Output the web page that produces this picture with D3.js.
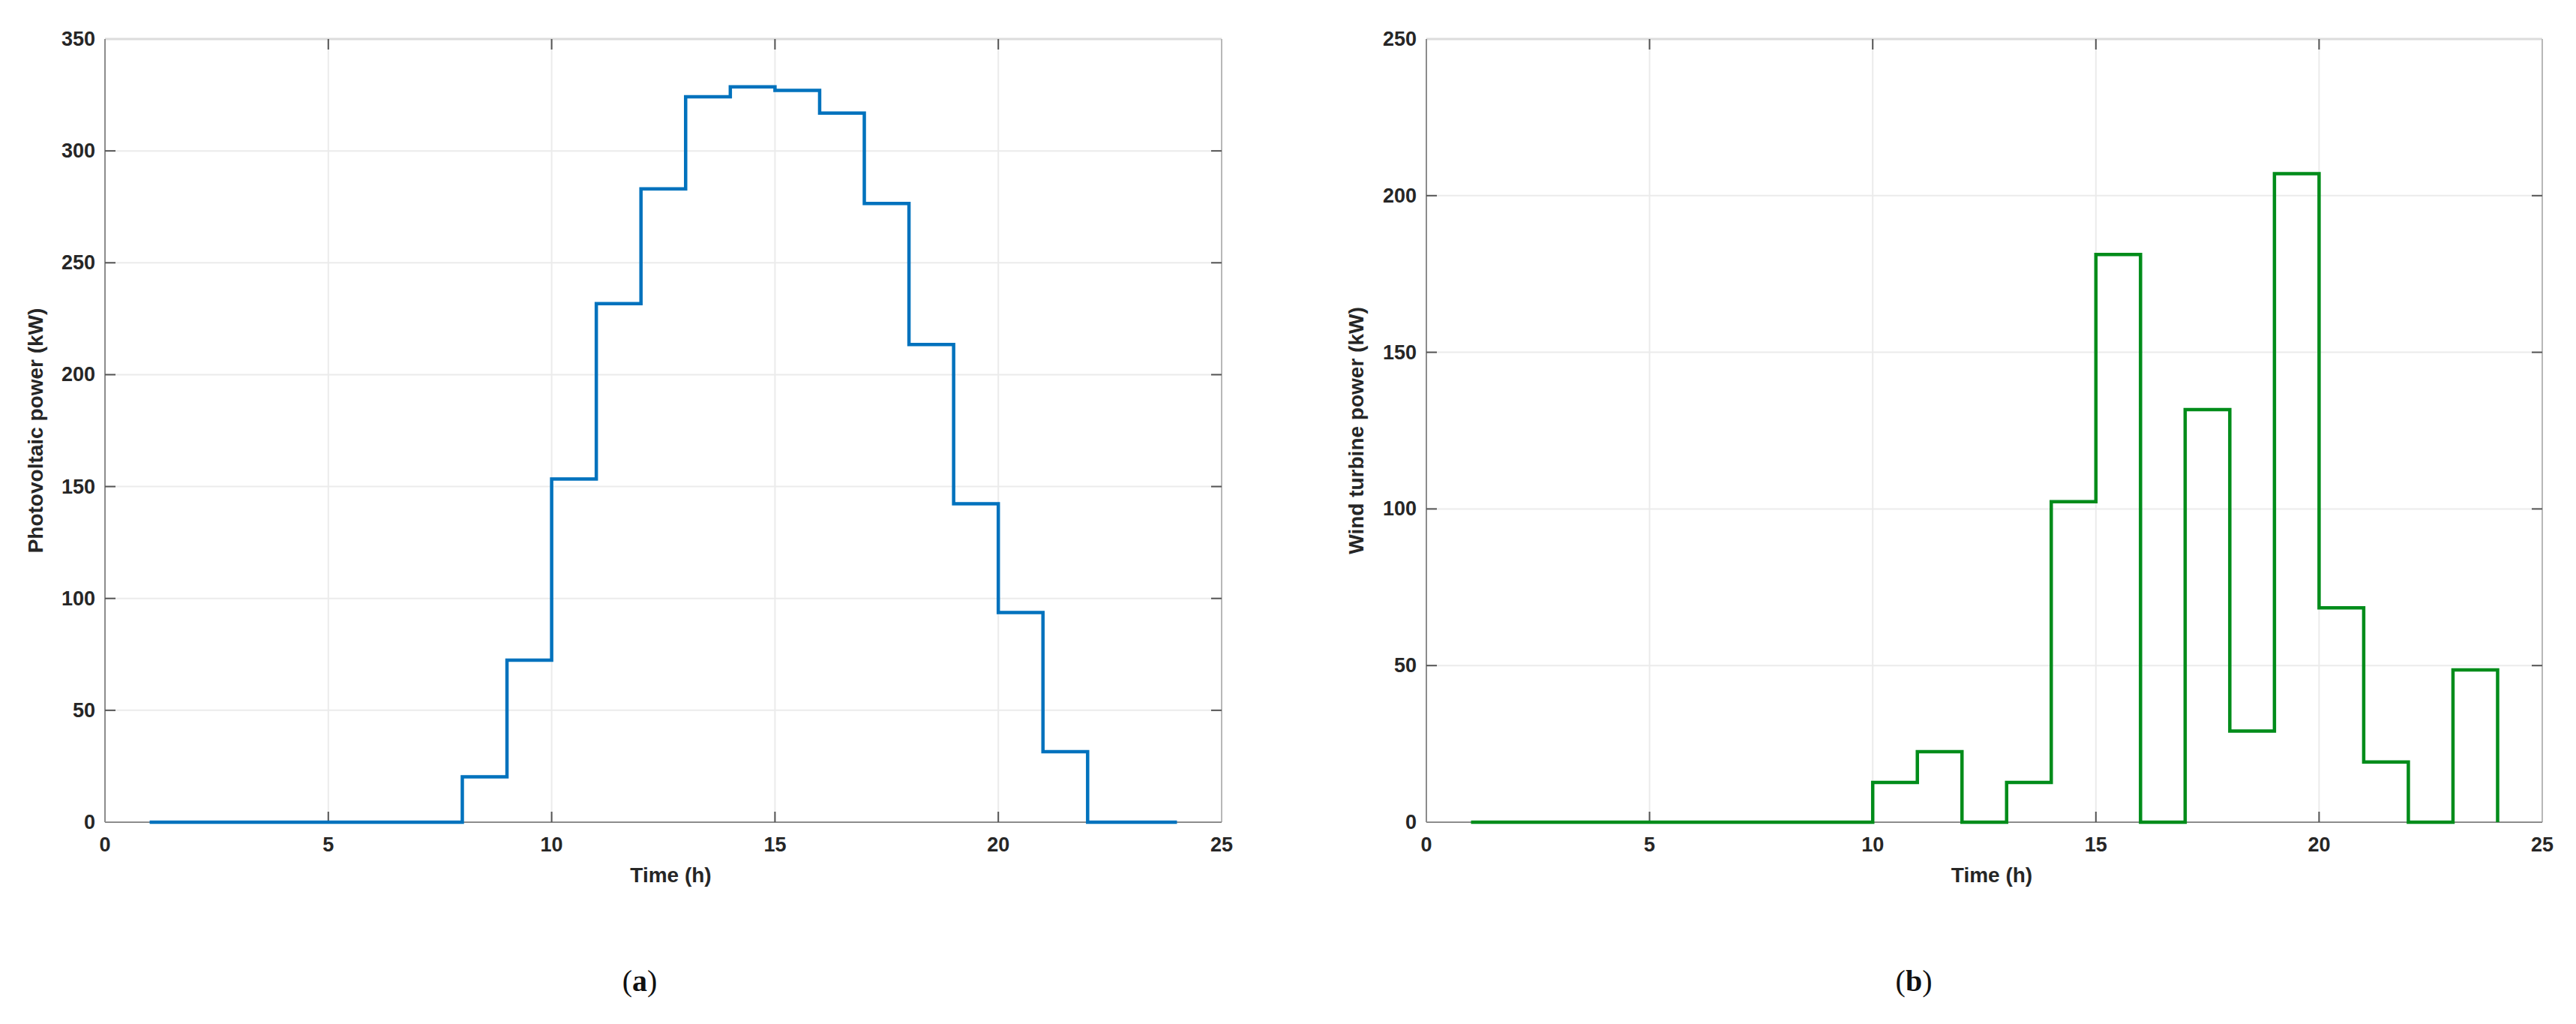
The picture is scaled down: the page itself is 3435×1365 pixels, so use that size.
<!DOCTYPE html>
<html>
<head>
<meta charset="utf-8">
<script src="https://cdn.jsdelivr.net/npm/d3@7"></script>
<style>
  html, body { margin: 0; padding: 0; background: #ffffff; }
  svg { display: block; }
</style>
</head>
<body>
<svg id="chart" width="3435" height="1365"></svg>
<script>
// ---- data ----
const hours = [1,2,3,4,5,6,7,8,9,10,11,12,13,14,15,16,17,18,19,20,21,22,23,24];
const pvPower = [0,0,0,0,0,0,0,20.3,72.4,153.4,231.7,283,324.2,328.6,327,316.9,276.5,213.5,142.3,93.7,31.5,0,0,0];
const windPower = [0,0,0,0,0,0,0,0,0,12.7,22.5,0,12.7,102.3,181.2,0,131.7,29.1,207,68.4,19.2,0,48.6,0];
const xTicks = [0,5,10,15,20,25];
const pvTicks = [0,50,100,150,200,250,300,350];
const windTicks = [0,50,100,150,200,250];
const xLabel = "Time (h)";
const pvLabel = "Photovoltaic power (kW)";
const windLabel = "Wind turbine power (kW)";
const captions = ["(", "a", ")"];
const captionsB = ["(", "b", ")"];

const svg = d3.select("#chart");
const FONT = "'Liberation Sans', Arial, Helvetica, sans-serif";

function panel(opts) {
  const {left, right, top, bottom, yMax, yTicks, values, color, ylab, ylabX, capX, capLetters} = opts;
  const x = d3.scaleLinear().domain([0, 25]).range([left, right]);
  const y = d3.scaleLinear().domain([0, yMax]).range([bottom, top]);
  const g = svg.append("g");

  // grid
  g.selectAll(".gx").data(xTicks.slice(1, -1)).join("line")
    .attr("x1", d => x(d)).attr("x2", d => x(d))
    .attr("y1", top).attr("y2", bottom)
    .attr("stroke", "#ebebeb").attr("stroke-width", 2);
  g.selectAll(".gy").data(yTicks.slice(1, -1)).join("line")
    .attr("x1", left).attr("x2", right)
    .attr("y1", d => y(d)).attr("y2", d => y(d))
    .attr("stroke", "#ebebeb").attr("stroke-width", 2);

  // frame
  g.append("line").attr("x1", left).attr("x2", right).attr("y1", top).attr("y2", top)
    .attr("stroke", "#dcdcdc").attr("stroke-width", 3);
  g.append("line").attr("x1", right).attr("x2", right).attr("y1", top).attr("y2", bottom)
    .attr("stroke", "#b8b8b8").attr("stroke-width", 2);
  g.append("line").attr("x1", left).attr("x2", right).attr("y1", bottom).attr("y2", bottom)
    .attr("stroke", "#8c8c8c").attr("stroke-width", 2);
  g.append("line").attr("x1", left).attr("x2", left).attr("y1", top).attr("y2", bottom)
    .attr("stroke", "#8c8c8c").attr("stroke-width", 2);

  // ticks (inward, all four sides)
  const tl = 14;
  const inner = xTicks.slice(1, -1);
  g.selectAll(".tb").data(inner).join("line")
    .attr("x1", d => x(d)).attr("x2", d => x(d)).attr("y1", bottom).attr("y2", bottom - tl)
    .attr("stroke", "#555").attr("stroke-width", 2);
  g.selectAll(".tt").data(inner).join("line")
    .attr("x1", d => x(d)).attr("x2", d => x(d)).attr("y1", top).attr("y2", top + tl)
    .attr("stroke", "#555").attr("stroke-width", 2);
  const innerY = yTicks.slice(1, -1);
  g.selectAll(".tl").data(innerY).join("line")
    .attr("x1", left).attr("x2", left + tl).attr("y1", d => y(d)).attr("y2", d => y(d))
    .attr("stroke", "#555").attr("stroke-width", 2);
  g.selectAll(".tr").data(innerY).join("line")
    .attr("x1", right).attr("x2", right - tl).attr("y1", d => y(d)).attr("y2", d => y(d))
    .attr("stroke", "#555").attr("stroke-width", 2);

  // tick labels
  g.selectAll(".lx").data(xTicks).join("text")
    .attr("x", d => x(d)).attr("y", bottom + 30)
    .attr("text-anchor", "middle").attr("dominant-baseline", "central")
    .attr("font-family", FONT).attr("font-weight", "bold").attr("font-size", 27)
    .attr("fill", "#262626").text(d => d);
  g.selectAll(".ly").data(yTicks).join("text")
    .attr("x", left - 13).attr("y", d => y(d))
    .attr("text-anchor", "end").attr("dominant-baseline", "central")
    .attr("font-family", FONT).attr("font-weight", "bold").attr("font-size", 27)
    .attr("fill", "#262626").text(d => d);

  // axis labels
  g.append("text").attr("x", (left + right) / 2 + 10).attr("y", bottom + 70)
    .attr("text-anchor", "middle").attr("dominant-baseline", "central")
    .attr("font-family", FONT).attr("font-weight", "bold").attr("font-size", 28)
    .attr("fill", "#262626").text(xLabel);
  g.append("text")
    .attr("transform", `translate(${ylabX},${(top + bottom) / 2}) rotate(-90)`)
    .attr("text-anchor", "middle").attr("dominant-baseline", "central")
    .attr("font-family", FONT).attr("font-weight", "bold").attr("font-size", 28)
    .attr("fill", "#262626").text(ylab);

  // stairs line
  const line = d3.line().x((d, i) => x(hours[i])).y(d => y(d)).curve(d3.curveStepAfter);
  g.append("path").datum(values)
    .attr("d", line)
    .attr("fill", "none").attr("stroke", color).attr("stroke-width", 4.5)
    .attr("stroke-linejoin", "miter").attr("stroke-linecap", "butt");

  // caption
  const cap = svg.append("text").attr("x", capX).attr("y", 1307)
    .attr("text-anchor", "middle").attr("dominant-baseline", "central")
    .attr("font-family", "'Liberation Serif', 'DejaVu Serif', serif").attr("font-size", 40)
    .attr("fill", "#111");
  cap.append("tspan").text(capLetters[0]);
  cap.append("tspan").attr("font-weight", "bold").text(capLetters[1]);
  cap.append("tspan").text(capLetters[2]);
}

panel({left: 140, right: 1629, top: 52, bottom: 1096, yMax: 350, yTicks: pvTicks,
       values: pvPower, color: "#0072BD", ylab: pvLabel, ylabX: 47, capX: 853, capLetters: captions});
panel({left: 1902, right: 3390, top: 52, bottom: 1096, yMax: 250, yTicks: windTicks,
       values: windPower, color: "#008C1A", ylab: windLabel, ylabX: 1808, capX: 2552, capLetters: captionsB});
</script>
</body>
</html>
